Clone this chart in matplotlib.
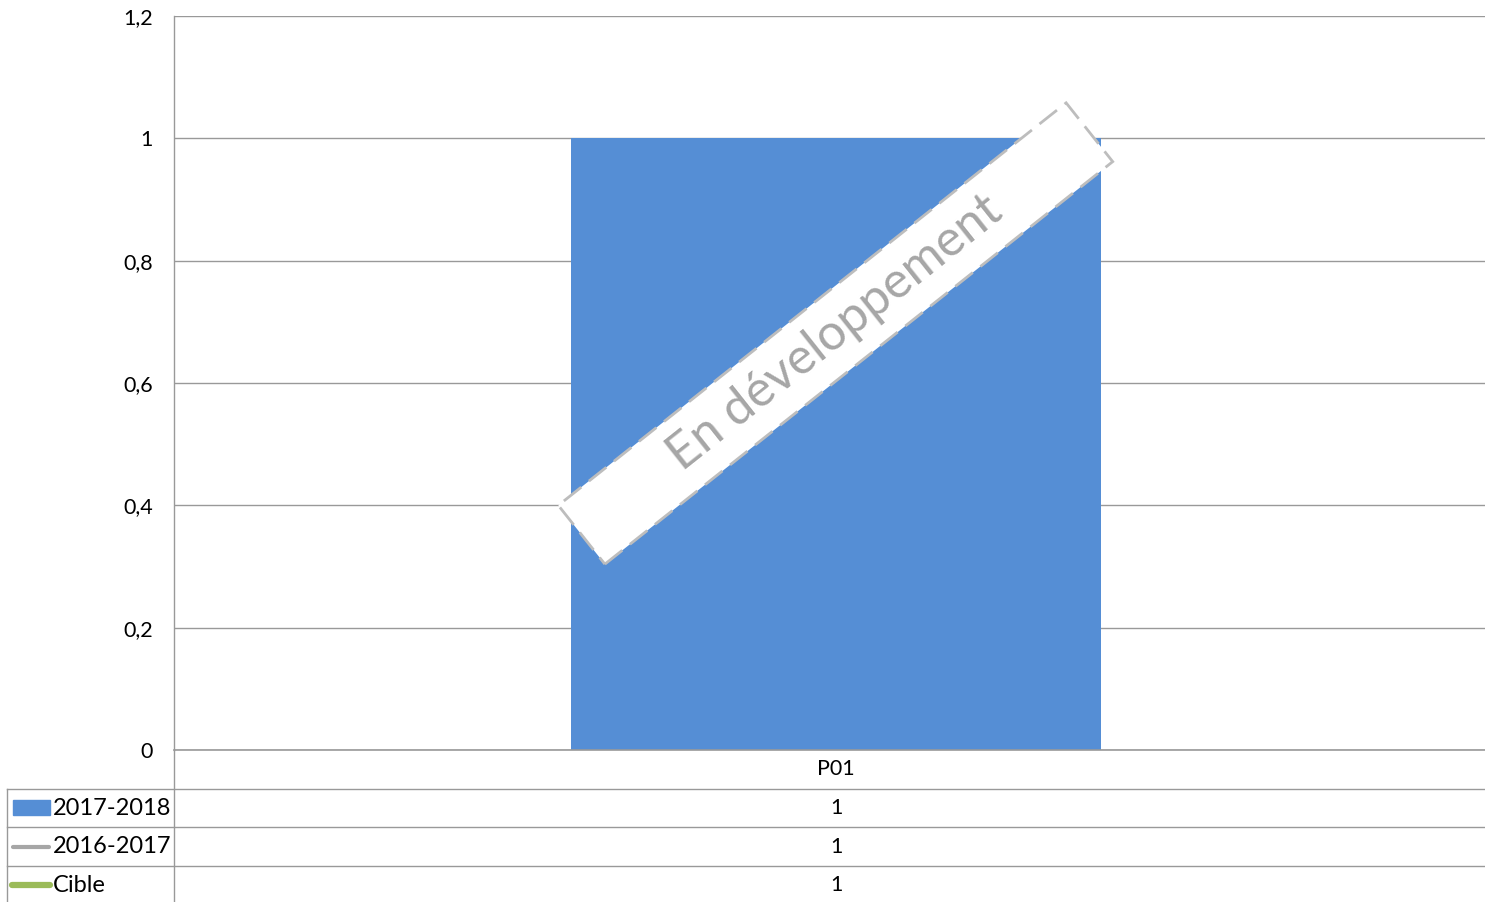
import matplotlib
import numpy as np

matplotlib.use('agg')

import matplotlib.pyplot as plt
from matplotlib.patches import Rectangle
from matplotlib.lines import Line2D
from matplotlib.ticker import FuncFormatter

plt.rcParams['font.family'] = ['Lato', 'DejaVu Sans']

# data
categories = ['P01']
series_names = ['2017-2018', '2016-2017', 'Cible']
bar_2017_2018 = [1]
line_2016_2017 = [1]
line_cible = [1]
y_ticks = [0, 0.2, 0.4, 0.6, 0.8, 1.0, 1.2]
watermark = 'En développement'

BLUE = '#558ED5'
GREY_LINE = '#A6A6A6'
GREEN = '#9BBB59'
GRID = '#999999'

W, H = 1485, 902
fig = plt.figure(figsize=(W / 100, H / 100), dpi=100)


def fx(px):
    return px / W


def fy(py):
    return 1 - py / H


# plot area (right edge goes a bit past the image, as in the reference)
left, right, top, bottom = 174, 1498, 16, 750
ax = fig.add_axes([fx(left), fy(bottom), fx(right - left), (bottom - top) / H])

x = np.arange(len(categories))
ax.bar(x, bar_2017_2018, width=0.4, color=BLUE, zorder=2)
ax.plot(x, line_2016_2017, color=GREY_LINE, lw=2.5, zorder=3)
ax.plot(x, line_cible, color=GREEN, lw=4, zorder=3)

ax.set_xlim(-0.5, len(categories) - 0.5)
ax.set_ylim(0, 1.2)
ax.set_yticks(y_ticks)
ax.yaxis.set_major_formatter(FuncFormatter(lambda v, p: f'{v:g}'.replace('.', ',')))
ax.set_xticks([])
ax.tick_params(axis='y', length=0, pad=15, labelsize=15.5)
ax.grid(axis='y', color=GRID, lw=1, zorder=0)
ax.axhline(0, color=GRID, lw=1.2, zorder=4, clip_on=False)
for s in ['top', 'right', 'bottom']:
    ax.spines[s].set_visible(False)
ax.spines['left'].set_color(GRID)
ax.spines['left'].set_linewidth(1)

# data table below the chart
row_h = 38.7
cat_row = (bottom, bottom + row_h)
rows_y = [bottom + row_h * (i + 1) for i in range(len(series_names) + 1)]
col_left = 7
cell_center = (left + right) / 2

line_kw = dict(color=GRID, lw=1, transform=fig.transFigure)
fig.add_artist(Line2D([fx(left), fx(left)], [fy(bottom), fy(H + 5)], **line_kw))
for i, yy in enumerate(rows_y):
    if yy <= H:
        fig.add_artist(Line2D([fx(col_left), fx(right)], [fy(yy), fy(yy)], **line_kw))
fig.add_artist(Line2D([fx(col_left), fx(col_left)], [fy(rows_y[0]), fy(H + 5)], **line_kw))

for j, cat in enumerate(categories):
    fig.text(fx(cell_center), fy((cat_row[0] + cat_row[1]) / 2), cat,
             ha='center', va='center', fontsize=15.5)

values = [bar_2017_2018, line_2016_2017, line_cible]
for i, (name, vals) in enumerate(zip(series_names, values)):
    yc = rows_y[i] + row_h / 2
    fig.text(fx(53), fy(yc), name, ha='left', va='center', fontsize=17)
    fig.text(fx(cell_center), fy(yc), f'{vals[0]:g}', ha='center', va='center', fontsize=15.5)
    if i == 0:
        fig.add_artist(Rectangle((fx(13), fy(yc + 7)), fx(37), 15 / H,
                                 color=BLUE, transform=fig.transFigure))
    elif i == 1:
        fig.add_artist(Line2D([fx(13), fx(49)], [fy(yc), fy(yc)], color=GREY_LINE,
                              lw=3, solid_capstyle='round', transform=fig.transFigure))
    else:
        fig.add_artist(Line2D([fx(12), fx(50)], [fy(yc), fy(yc)], color=GREEN,
                              lw=4.5, solid_capstyle='round', transform=fig.transFigure))

# "En développement" stamp
cx, cy = 835.5, 333.5
bw, bh = 648, 75
angle = 38.4
stamp = Rectangle(((cx - bw / 2) / 100, (H - cy - bh / 2) / 100), bw / 100, bh / 100,
                  angle=angle, rotation_point='center', facecolor='white',
                  edgecolor='#BDBDBD', lw=2, linestyle=(0, (8, 3.5)),
                  transform=fig.dpi_scale_trans, zorder=5)
fig.add_artist(stamp)
fig.text(fx(cx), fy(cy), watermark, rotation=angle, rotation_mode='anchor',
         ha='center', va='center', color='#A6A6A6', fontsize=36, zorder=6)

fig.savefig('out.png', dpi=100)
